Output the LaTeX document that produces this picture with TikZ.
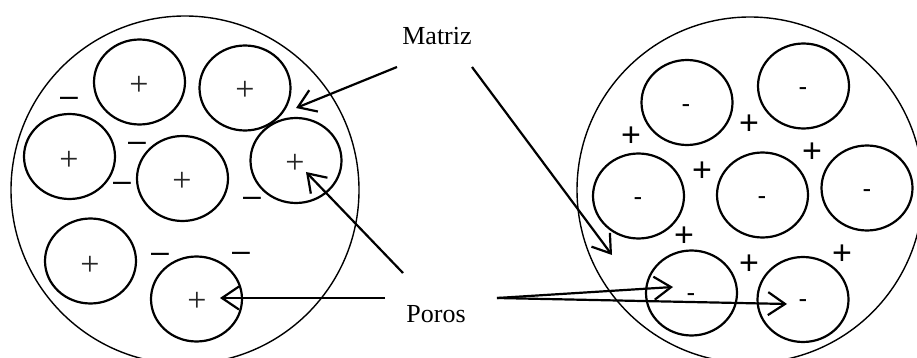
\documentclass[tikz,border=0pt]{standalone}
\usepackage{fontspec}
\setmainfont{Liberation Serif}
\newfontfamily\sansf{Liberation Sans}
\usetikzlibrary{arrows.meta,shapes.geometric}
\begin{document}
\begin{tikzpicture}[x=1pt,y=-1pt,
  bigc/.style={line width=1.4pt},
  pore/.style={ellipse, draw, line width=2.2pt, minimum width=91pt, minimum height=85pt, inner sep=0pt},
  pplus/.style={font=\fontsize{34}{34}\selectfont, text=black!85, inner sep=0pt},
  nminus/.style={font=\sansf\fontsize{32}{32}\selectfont, inner sep=0pt},
  oplus/.style={font=\sansf\fontsize{34}{34}\selectfont, inner sep=0pt},
  iminus/.style={font=\sansf\fontsize{26}{26}\selectfont, inner sep=0pt},
  lbl/.style={font=\fontsize{26}{26}\selectfont, inner sep=0pt, anchor=base},
  arr/.style={line width=2.2pt, -{Straight Barb[length=17pt,width=23pt,line width=2.2pt]}}
]
\useasboundingbox (0,0) rectangle (917,358);
% big circles
\draw[bigc] (185,190) circle[radius=174];
\draw[bigc] (750,190) circle[radius=173];
% left pores
\node[pore] (L1) at (139.5,82) {};
\node[pore] (L2) at (245,88) {};
\node[pore] (L3) at (69.5,156.5) {};
\node[pore] (L4) at (182.5,178.5) {};
\node[pore] (L5) at (296,160.5) {};
\node[pore] (L6) at (90.5,261) {};
\node[pore] (L7) at (196.5,299) {};
% left inner pluses
\node[pplus] (lp1) at (139,86) {+};
\node[pplus] (lp2) at (245,91) {+};
\node[pplus] (lp3) at (69,161) {+};
\node[pplus] (lp4) at (182,182) {+};
\node[pplus] (lp5) at (295,164) {+};
\node[pplus] (lp6) at (90,266) {+};
\node[pplus] (lp7) at (197,302) {+};
% left dashes
\node[nminus] (ld1) at (69,102) {–};
\node[nminus] (ld2) at (137,147) {–};
\node[nminus] (ld3) at (122,187) {–};
\node[nminus] (ld4) at (252,202) {–};
\node[nminus] (ld5) at (160,258) {–};
\node[nminus] (ld6) at (241,257) {–};
% right pores
\node[pore] (R1) at (687,102.5) {};
\node[pore] (R2) at (803.5,86) {};
\node[pore] (R3) at (638.5,196) {};
\node[pore] (R4) at (762.5,195) {};
\node[pore] (R5) at (867,188) {};
\node[pore] (R6) at (691.5,293) {};
\node[pore] (R7) at (803,299.5) {};
% right inner minus
\node[iminus] (rm1) at (686,109) {-};
\node[iminus] (rm2) at (803,92) {-};
\node[iminus] (rm3) at (638,202) {-};
\node[iminus] (rm4) at (762,201) {-};
\node[iminus] (rm5) at (867,194) {-};
\node[iminus] (rm6) at (691,298) {-};
\node[iminus] (rm7) at (803,304) {-};
% right outer pluses
\node[oplus] (rp1) at (631,137) {+};
\node[oplus] (rp2) at (749,125) {+};
\node[oplus] (rp3) at (702,172) {+};
\node[oplus] (rp4) at (812,153) {+};
\node[oplus] (rp5) at (684,237) {+};
\node[oplus] (rp6) at (749,265) {+};
\node[oplus] (rp7) at (842,255) {+};
% labels
\node[lbl] (matriz) at (437,45) {Matriz};
\node[lbl] (poros) at (436,322) {Poros};
% arrow ends
\coordinate (mt1) at (397,67);
\coordinate (mt2) at (472,67);
\coordinate (mh1) at (296,108);
\coordinate (mh2) at (612,255);
\coordinate (pt1) at (403,273);
\coordinate (pt2) at (385,298);
\coordinate (pt3) at (497,298);
\coordinate (ph1) at (306,172);
\coordinate (ph2) at (220,298);
\coordinate (ph3) at (673,287);
\coordinate (ph4) at (787,304);
\draw[arr] (mt1) -- (mh1);
\draw[arr] (mt2) -- (mh2);
\draw[arr] (pt1) -- (ph1);
\draw[arr] (pt2) -- (ph2);
\draw[arr] (pt3) -- (ph3);
\draw[arr] (pt3) -- (ph4);
\end{tikzpicture}
\end{document}
